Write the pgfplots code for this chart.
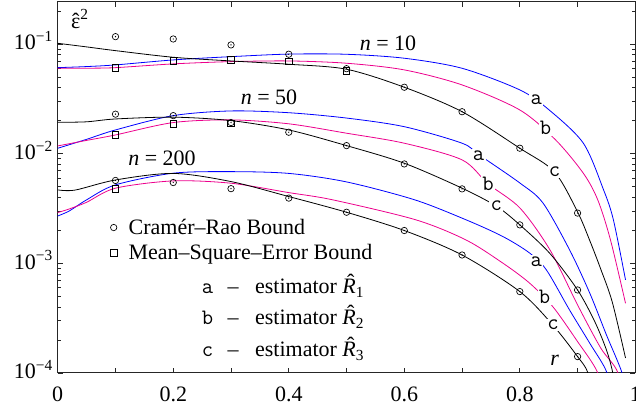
\documentclass[border=0pt]{standalone}
\usepackage{fontspec}
\setmainfont{Liberation Serif}
\usepackage{pgfplots}
\pgfplotsset{compat=1.18}

% circle with a dot in the middle
\pgfdeclareplotmark{odot}{%
  \pgfpathcircle{\pgfpointorigin}{\pgfplotmarksize}\pgfusepathqstroke
  \pgfpathcircle{\pgfpointorigin}{0.22\pgfplotmarksize}\pgfusepathqfill}

\newcommand\fsz{\fontsize{16.5pt}{19pt}\selectfont}
% letter with a circumflex hat on top
\newcommand\hatted[3]{\ooalign{#1\cr\hidewidth\kern#3\raisebox{#2}{ˆ}\hidewidth\cr}}
\newcommand\Rhat{\hatted{\textit{R}}{0.2em}{0.15em}}

\begin{document}
\begin{tikzpicture}
\begin{axis}[
  scale only axis, width=433.2pt, height=278.6pt,
  ymode=log, xmin=0, xmax=1, ymin=1e-4, ymax=0.244,
  axis line style={line width=0.7pt, black!85},
  tick style={line width=0.6pt, black!85},
  tick align=inside, major tick length=4pt, minor tick length=2.3pt,
  xtick pos=both, ytick pos=both, xticklabel pos=lower, yticklabel pos=left,
  xtick={0,0.1,0.2,0.3,0.4,0.5,0.6,0.7,0.8,0.9,1},
  xticklabels={0,,0.2,,0.4,,0.6,,0.8,,1},
  ytick={1e-4,1e-3,1e-2,1e-1},
  yticklabels={10\textsuperscript{−4},10\textsuperscript{−3},10\textsuperscript{−2},10\textsuperscript{−1}},
  minor ytick={2e-4,3e-4,4e-4,5e-4,6e-4,7e-4,8e-4,9e-4,
               2e-3,3e-3,4e-3,5e-3,6e-3,7e-3,8e-3,9e-3,
               2e-2,3e-2,4e-2,5e-2,6e-2,7e-2,8e-2,9e-2,2e-1},
  tick label style={font=\fsz},
  xticklabel style={anchor=base, yshift=-21.5pt},
  yticklabel style={anchor=base east, yshift=-4.5pt},
  legend style={draw=none, fill=none, font=\fsz, inner sep=0pt,
                at={(rel axis cs:0.0909,0.4226)}, anchor=north west,
                column sep=6.8pt, row sep=2pt, cells={anchor=west}},
  every axis plot/.append style={line width=0.6pt},
]
% n = 10
\addplot[blue, smooth, forget plot] coordinates {
  (0,0.0608) (0.05,0.0622) (0.1,0.0644) (0.2,0.0715) (0.3,0.0766) (0.4,0.0808)
  (0.5,0.0805) (0.6,0.0741) (0.7,0.0600) (0.8,0.0381) (0.85,0.0252) (0.91,0.01244)
  (0.945,0.00467) (0.962,0.00249) (0.983,0.000706)};
\addplot[magenta, smooth, forget plot] coordinates {
  (0,0.0600) (0.05,0.0601) (0.1,0.0608) (0.2,0.0658) (0.3,0.0690) (0.4,0.0700)
  (0.5,0.0667) (0.6,0.0580) (0.7,0.0423) (0.8,0.0250) (0.862,0.01333) (0.91,0.00662)
  (0.935,0.00378) (0.957,0.00163) (0.983,0.000432)};
\addplot[black, smooth, forget plot] coordinates {
  (0,0.1014) (0.05,0.094) (0.1,0.0869) (0.2,0.0756) (0.3,0.0700) (0.4,0.0653)
  (0.5,0.0588) (0.6,0.0403) (0.7,0.0241) (0.8,0.0112) (0.86,0.00681) (0.9,0.00294)
  (0.922,0.001567) (0.94,0.000888) (0.96,0.000444) (0.983,0.000137)};
% n = 50
\addplot[blue, smooth, forget plot] coordinates {
  (0,0.01119) (0.05,0.0135) (0.1,0.01644) (0.2,0.0222) (0.3,0.0245) (0.4,0.0236)
  (0.5,0.0211) (0.6,0.0176) (0.7,0.01244) (0.73,0.0097) (0.8,0.0054) (0.84,0.00355)
  (0.886,0.00133) (0.921,0.000536) (0.95,0.000222) (0.977,0.0001) (0.99,0.00005)};
\addplot[magenta, smooth, forget plot] coordinates {
  (0,0.01175) (0.05,0.0132) (0.1,0.0148) (0.2,0.0192) (0.3,0.0203) (0.4,0.0187)
  (0.5,0.01535) (0.6,0.01244) (0.7,0.00877) (0.745,0.0053) (0.8,0.0032) (0.852,0.00133)
  (0.9,0.000417) (0.94,0.000169) (0.97,0.0001) (0.985,0.00004)};
\addplot[black, smooth, forget plot] coordinates {
  (0,0.0193) (0.05,0.0195) (0.1,0.0207) (0.2,0.0215) (0.3,0.0200) (0.4,0.01644)
  (0.5,0.01183) (0.6,0.00817) (0.7,0.00484) (0.76,0.0033) (0.8,0.00224) (0.852,0.00123)
  (0.9,0.000571) (0.93,0.000292) (0.95,0.000162) (0.961,0.0001) (0.975,0.00004)};
% n = 200
\addplot[blue, smooth, forget plot] coordinates {
  (0,0.0027) (0.02,0.003) (0.05,0.00379) (0.1,0.00519) (0.2,0.00663) (0.3,0.00685)
  (0.4,0.0066) (0.5,0.00552) (0.618,0.00379) (0.707,0.00249) (0.771,0.00175)
  (0.817,0.00124) (0.846,0.00087) (0.886,0.000376) (0.921,0.000187) (0.951,0.0001)
  (0.96,0.00005)};
\addplot[magenta, smooth, forget plot] coordinates {
  (0,0.0029) (0.02,0.00313) (0.05,0.0036) (0.1,0.00484) (0.2,0.00564) (0.3,0.00537)
  (0.4,0.00441) (0.476,0.00379) (0.62,0.00249) (0.707,0.00163) (0.771,0.001)
  (0.817,0.000659) (0.857,0.000403) (0.898,0.0002) (0.935,0.0001) (0.945,0.00005)};
\addplot[black, smooth, forget plot] coordinates {
  (0,0.00467) (0.03,0.00465) (0.1,0.00575) (0.2,0.0066) (0.3,0.00556) (0.4,0.00406)
  (0.5,0.00292) (0.6,0.00199) (0.7,0.00119) (0.8,0.000552) (0.857,0.000274)
  (0.9,0.000141) (0.918,0.0001) (0.93,0.00005)};

% Cramer-Rao bound
\addplot[only marks, mark=odot, mark size=2.4pt, mark options={line width=0.5pt},
  legend image code/.code={\draw[mark=o, mark size=2.4pt, line width=0.5pt] plot coordinates {(0pt,0pt)};}]
  coordinates {
  (0.1,0.1166) (0.2,0.111) (0.3,0.098) (0.4,0.0806) (0.5,0.0595) (0.6,0.0403)
  (0.7,0.0241) (0.8,0.0112) (0.9,0.00287)
  (0.1,0.0229) (0.2,0.0222) (0.3,0.0192) (0.4,0.01567) (0.5,0.01183) (0.6,0.00805)
  (0.7,0.00477) (0.8,0.00224) (0.9,0.000571)
  (0.1,0.00569) (0.2,0.00545) (0.3,0.00479) (0.4,0.00393) (0.5,0.00292) (0.6,0.00199)
  (0.7,0.00119) (0.8,0.000552) (0.9,0.000141)};
\addlegendentry{Cramér–Rao Bound}
% mean-square-error bound
\addplot[only marks, mark=square, mark size=2.4pt, mark options={line width=0.5pt},
  legend image code/.code={\draw[mark=square, mark size=2.4pt, line width=0.5pt] plot coordinates {(0pt,0pt)};}]
  coordinates {
  (0.1,0.0608) (0.2,0.070) (0.3,0.0715) (0.4,0.069) (0.5,0.0571)
  (0.1,0.0148) (0.2,0.0187) (0.3,0.0189)
  (0.1,0.00477)};
\addlegendentry{Mean–Square–Error Bound}

% curve labels
\begin{scope}[every node/.style={fill=white, inner sep=1pt, font=\fsz\ttfamily}]
\node at (axis cs:0.8286,0.03087) {a};
\node at (axis cs:0.8447,0.01704) {b};
\node at (axis cs:0.8603,0.00685) {c};
\node at (axis cs:0.7287,0.00959) {a};
\node at (axis cs:0.7449,0.00526) {b};
\node at (axis cs:0.7593,0.00332) {c};
\node at (axis cs:0.8286,0.001036) {a};
\node at (axis cs:0.8429,0.000497) {b};
\node at (axis cs:0.8575,0.000274) {c};
\end{scope}
\node[font=\fsz] at (axis cs:0.8603,0.0001316) {\textit{r}};
\node[font=\fsz] at (axis cs:0.0386,0.169) {\hatted{ε}{0em}{0em}\textsuperscript{2}};
\node[font=\fsz] at (axis cs:0.5718,0.102) {\textit{n} = 10};
\node[font=\fsz] at (axis cs:0.3658,0.03286) {\textit{n} = 50};
\node[font=\fsz] at (axis cs:0.1806,0.009131) {\textit{n} = 200};
% estimator key
\node[font=\fsz, anchor=base west] at (axis cs:0.2412,5.253e-4)
  {\texttt{a}\hspace{0.66em}–\hspace{0.75em}estimator \Rhat\textsubscript{1}};
\node[font=\fsz, anchor=base west] at (axis cs:0.2412,2.741e-4)
  {\texttt{b}\hspace{0.66em}–\hspace{0.75em}estimator \Rhat\textsubscript{2}};
\node[font=\fsz, anchor=base west] at (axis cs:0.2412,1.408e-4)
  {\texttt{c}\hspace{0.66em}–\hspace{0.75em}estimator \Rhat\textsubscript{3}};
\end{axis}
\pgfresetboundingbox
\path ([shift={(-43.3pt,-29.25pt)}]current axis.south west)
  rectangle ([shift={(0.5pt,1.1pt)}]current axis.north east);
\end{tikzpicture}
\end{document}
